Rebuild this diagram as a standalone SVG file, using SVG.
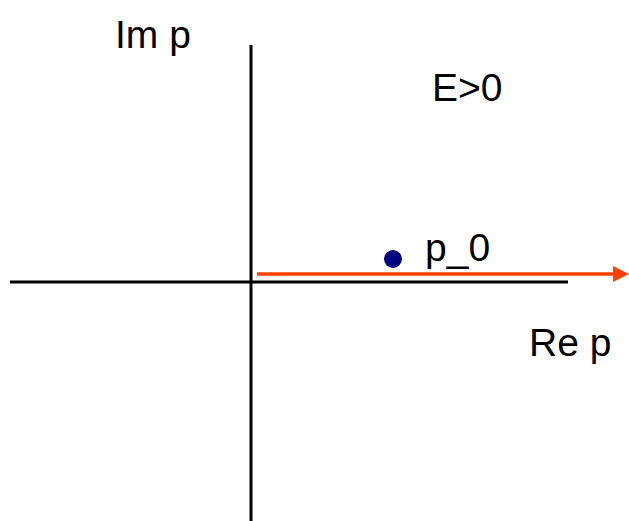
<svg xmlns="http://www.w3.org/2000/svg" width="629" height="521" viewBox="0 0 629 521">
<style>
.lbl{font-family:"Liberation Sans",Arial,sans-serif;font-size:39px;fill:#000}
.axis{stroke:#000;stroke-width:3;fill:none}
</style>
<rect width="629" height="521" fill="#fff"/>
<g id="axes">
<line class="axis" x1="251" y1="45" x2="251" y2="521"/>
<line class="axis" x1="10" y1="282" x2="568" y2="282"/>
</g>
<g id="connectors">
<line x1="257" y1="274" x2="618" y2="274" stroke="#ff4000" stroke-width="3.5"/>
<path d="M613,266 L629,274 L613,282 Z" fill="#ff4000"/>
</g>
<g id="p0">
<circle cx="393" cy="259" r="9" fill="#000080"/>
<text class="lbl" x="425" y="261">p_0</text>
</g>
<g id="labels">
<text class="lbl" x="115" y="48">Im p</text>
<text class="lbl" x="432" y="101">E&gt;0</text>
<text class="lbl" x="529" y="356">Re p</text>
</g>
</svg>
